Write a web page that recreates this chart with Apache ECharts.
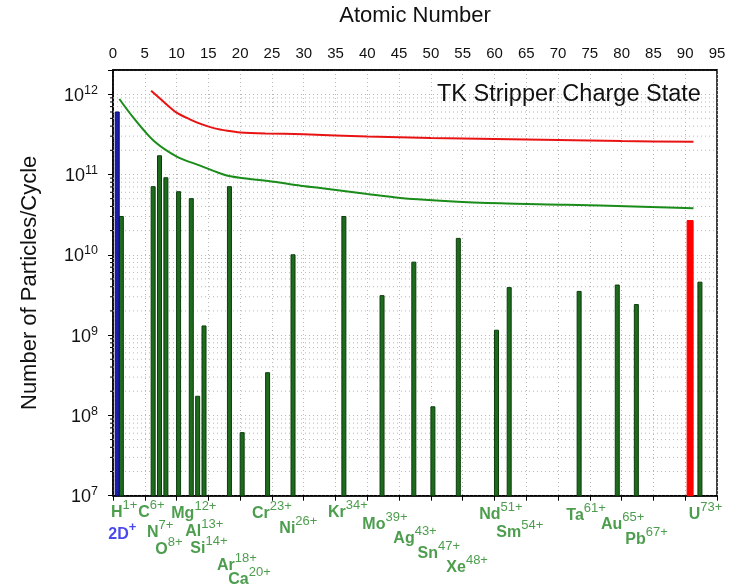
<!DOCTYPE html>
<html><head><meta charset="utf-8">
<script src="https://cdn.jsdelivr.net/npm/echarts@6/dist/echarts.min.js"></script>
<style>html,body{margin:0;padding:0;background:#fff}#c{width:737px;height:587px}</style>
</head><body><div id="c"></div>
<script>
// ---------------- data ----------------
const barZ     = [1, 6, 7, 8, 10, 12, 13, 14, 18, 20, 24, 28, 36, 42, 47, 50, 54, 60, 62, 73, 79, 82, 92];
const barValue = [3.0e10, 7.05e10, 1.71e11, 9.1e10, 6.1e10, 5.0e10, 1.73e8, 1.3e9, 7.05e10, 6.1e7, 3.4e8, 1.0e10,
                  3.0e10, 3.1e9, 8.1e9, 1.28e8, 1.6e10, 1.15e9, 3.9e9, 3.5e9, 4.2e9, 2.4e9, 4.56e9];
const deuteronZ     = [0.35];
const deuteronValue = [6.0e11];
const redBarZ     = [90.3];
const redBarValue = [2.67e10];
const greenLineZ     = [1.0, 3.2, 6.4, 10.1, 13.7, 17.9, 20.5, 25.3, 29.5, 32.6, 40, 45.2, 51.5, 60.9, 71.4, 81.9, 91.3];
const greenLineValue = [8.7e11, 5.1e11, 2.63e11, 1.66e11, 1.29e11, 9.7e10, 9.0e10, 8.1e10, 7.26e10, 6.8e10, 5.72e10,
                        5.1e10, 4.72e10, 4.37e10, 4.21e10, 3.98e10, 3.79e10];
const redLineZ     = [6, 8, 10, 12, 14, 16, 18, 20, 24, 30, 40, 50, 60, 70, 80, 91.3];
const redLineValue = [1.1e12, 8.0e11, 5.9e11, 4.9e11, 4.2e11, 3.75e11, 3.5e11, 3.34e11, 3.24e11, 3.17e11, 2.97e11,
                      2.85e11, 2.77e11, 2.69e11, 2.61e11, 2.55e11];
const labelZ      = [1, 1, 6, 7, 8, 12, 13, 14, 18, 20, 24, 28, 36, 42, 47, 50, 54, 60, 62, 73, 79, 82, 92];
const labelSymbol = ['H', '2D', 'C', 'N', 'O', 'Mg', 'Al', 'Si', 'Ar', 'Ca', 'Cr', 'Ni', 'Kr', 'Mo', 'Ag', 'Sn', 'Xe',
                     'Nd', 'Sm', 'Ta', 'Au', 'Pb', 'U'];
const labelCharge = ['1+', '+', '6+', '7+', '8+', '12+', '13+', '14+', '18+', '20+', '23+', '26+', '34+', '39+', '43+',
                     '47+', '48+', '51+', '54+', '61+', '65+', '67+', '73+'];
const xTickLabels = ['0','5','10','15','20','25','30','35','40','45','50','55','60','65','70','75','80','85','90','95'];
const yTickExponents = [7, 8, 9, 10, 11, 12];

// ---------------- layout (pixel offsets of the element labels) ----------------
const labelPlacement = [[-8.4,17],[-11,39],[-12.9,17],[-10.5,37],[-8.6,53.5],[-18,18],[-10.4,36],[-11.7,52.5],
  [-10.4,70],[-11.9,84],[-13.6,17.5],[-11.7,32.5],[-13.9,17],[-17.7,29],[-18.5,43],[-13.3,57.5],[-10,71.5],
  [-15.2,19],[-10.9,37],[-10.8,20],[-14.3,29],[-9,44],[-9.3,19]];

const FONT = "'Liberation Sans', Arial, Helvetica, sans-serif";
const Y_MIN = 1e7, Y_MAX = 2e12, X_MIN = 0, X_MAX = 95;
const GRIDC = '#b8b8b8';
const LABEL_GREEN = '#1f8420';
const LH = 21.5;

const minorVals = [];
for (let e = 7; e < 12; e++) for (let k = 2; k <= 9; k++) minorVals.push(k * Math.pow(10, e));

function barSeries(name, zs, vs, width, fill, stroke) {
  return {
    type: 'custom', name, coordinateSystem: 'cartesian2d', xAxisIndex: 0, yAxisIndex: 0, z: 4, silent: true,
    data: zs.map((z, i) => [z, vs[i]]),
    renderItem: (params, api) => {
      const top = api.coord([api.value(0), api.value(1)]);
      const base = api.coord([api.value(0), Y_MIN]);
      return { type: 'rect', shape: { x: top[0], y: top[1], width: width, height: base[1] - top[1] },
               style: { fill: fill, stroke: stroke, lineWidth: 1 } };
    }
  };
}

const chart = echarts.init(document.getElementById('c'), null, { renderer: 'canvas' });
chart.setOption({
  animation: false,
  backgroundColor: '#fff',
  textStyle: { fontFamily: FONT },
  title: { text: 'TK Stripper Charge State', left: 437, top: 83, padding: 0,
           textStyle: { fontSize: 23.5, fontWeight: 'normal', color: '#111', fontFamily: FONT } },
  grid: { left: 113, right: 20, top: 70, bottom: 91.3, show: true, borderColor: '#000', borderWidth: 1.5,
          backgroundColor: 'transparent' },
  xAxis: [
    { type: 'value', min: X_MIN, max: X_MAX, interval: 5, position: 'bottom',
      axisLine: { show: true, onZero: false, lineStyle: { color: '#000', width: 1.5 } },
      axisTick: { show: true, length: 5, inside: false, lineStyle: { color: '#000', width: 1 } },
      axisLabel: { show: false },
      splitLine: { show: true, lineStyle: { color: GRIDC, width: 1, type: [1, 3] } } },
    { type: 'value', min: X_MIN, max: X_MAX, interval: 5, position: 'top',
      axisLine: { show: true, onZero: false, lineStyle: { color: '#000', width: 1.5 } },
      axisTick: { show: false },
      axisLabel: { show: true, fontSize: 15, color: '#111', margin: 9, fontFamily: FONT,
                   formatter: v => xTickLabels[Math.round(v / 5)] },
      splitLine: { show: false },
      name: 'Atomic Number', nameLocation: 'middle', nameGap: 43,
      nameTextStyle: { fontSize: 22, color: '#111', fontFamily: FONT } }
  ],
  yAxis: {
    type: 'log', logBase: 10, min: Y_MIN, max: Y_MAX,
    axisLine: { show: true, onZero: false, lineStyle: { color: '#000', width: 1.5 } },
    axisTick: { show: true, length: 5, inside: false, lineStyle: { color: '#000', width: 1 } },
    axisLabel: {
      margin: 15, color: '#111',
      formatter: v => {
        const l = Math.log10(v), e = Math.round(l);
        return (Math.abs(l - e) < 1e-6 && yTickExponents.indexOf(e) >= 0) ? '{b|10}{s|' + e + '}' : '';
      },
      rich: {
        b: { fontSize: 18, color: '#111', fontFamily: FONT, lineHeight: 21, verticalAlign: 'bottom' },
        s: { fontSize: 12.5, color: '#111', fontFamily: FONT, verticalAlign: 'top' }
      }
    },
    splitLine: { show: true, lineStyle: { color: GRIDC, width: 1, type: [1, 3] } },
    name: 'Number of Particles/Cycle', nameLocation: 'middle', nameGap: 72,
    nameTextStyle: { fontSize: 22, color: '#111', fontFamily: FONT }
  },
  series: [
    { type: 'custom', name: 'minor', coordinateSystem: 'cartesian2d', xAxisIndex: 0, yAxisIndex: 0, z: 1,
      silent: true, clip: false,
      data: minorVals.map(v => [X_MIN, v]),
      renderItem: (params, api) => {
        const l = api.coord([X_MIN, api.value(1)]);
        const r = api.coord([X_MAX, api.value(1)]);
        return { type: 'group', children: [
          { type: 'line', shape: { x1: l[0], y1: l[1], x2: r[0], y2: r[1] },
            style: { stroke: GRIDC, lineWidth: 1, lineDash: [1, 3] } },
          { type: 'line', shape: { x1: l[0] - 3, y1: l[1], x2: l[0], y2: l[1] },
            style: { stroke: '#000', lineWidth: 1 } }
        ] };
      } },
    barSeries('charge states', barZ, barValue, 4, '#1e6b1e', '#0b3d0b'),
    barSeries('2D+', deuteronZ, deuteronValue, 4, '#1c1ca8', '#0a0a6e'),
    barSeries('U red', redBarZ, redBarValue, 6, '#ff0000', '#ff0000'),
    { type: 'line', name: 'green', xAxisIndex: 0, data: greenLineZ.map((z, i) => [z, greenLineValue[i]]),
      showSymbol: false, smooth: 0.3, lineStyle: { color: '#1a8c1a', width: 2 }, z: 5, silent: true },
    { type: 'line', name: 'red', xAxisIndex: 0, data: redLineZ.map((z, i) => [z, redLineValue[i]]),
      showSymbol: false, smooth: 0.3, lineStyle: { color: '#e81414', width: 2 }, z: 5, silent: true },
    { type: 'scatter', name: 'labels', xAxisIndex: 0, symbolSize: 0, clip: false, silent: true, z: 6,
      itemStyle: { color: 'transparent' },
      data: labelZ.map((z, i) => ({
        value: [z, Y_MIN],
        label: { offset: [labelPlacement[i][0], labelPlacement[i][1] - (LH / 2 - 8)] }
      })),
      label: {
        show: true, position: 'inside', align: 'left', verticalAlign: 'middle',
        formatter: p => {
          const i = p.dataIndex;
          const blue = labelSymbol[i] === '2D';
          return '{' + (blue ? 'db' : 'b') + '|' + labelSymbol[i] + '}{' + (blue ? 'ds' : 's') + '|' + labelCharge[i] + '}';
        },
        rich: {
          b:  { fontSize: 16, fontWeight: 'bold', color: LABEL_GREEN, fontFamily: FONT, lineHeight: LH, verticalAlign: 'bottom' },
          s:  { fontSize: 13, color: LABEL_GREEN, fontFamily: FONT, verticalAlign: 'top' },
          db: { fontSize: 16, fontWeight: 'bold', color: '#1a1ae6', fontFamily: FONT, lineHeight: LH, verticalAlign: 'bottom' },
          ds: { fontSize: 13, fontWeight: 'bold', color: '#1a1ae6', fontFamily: FONT, verticalAlign: 'top' }
        }
      } }
  ]
});
</script></body></html>
